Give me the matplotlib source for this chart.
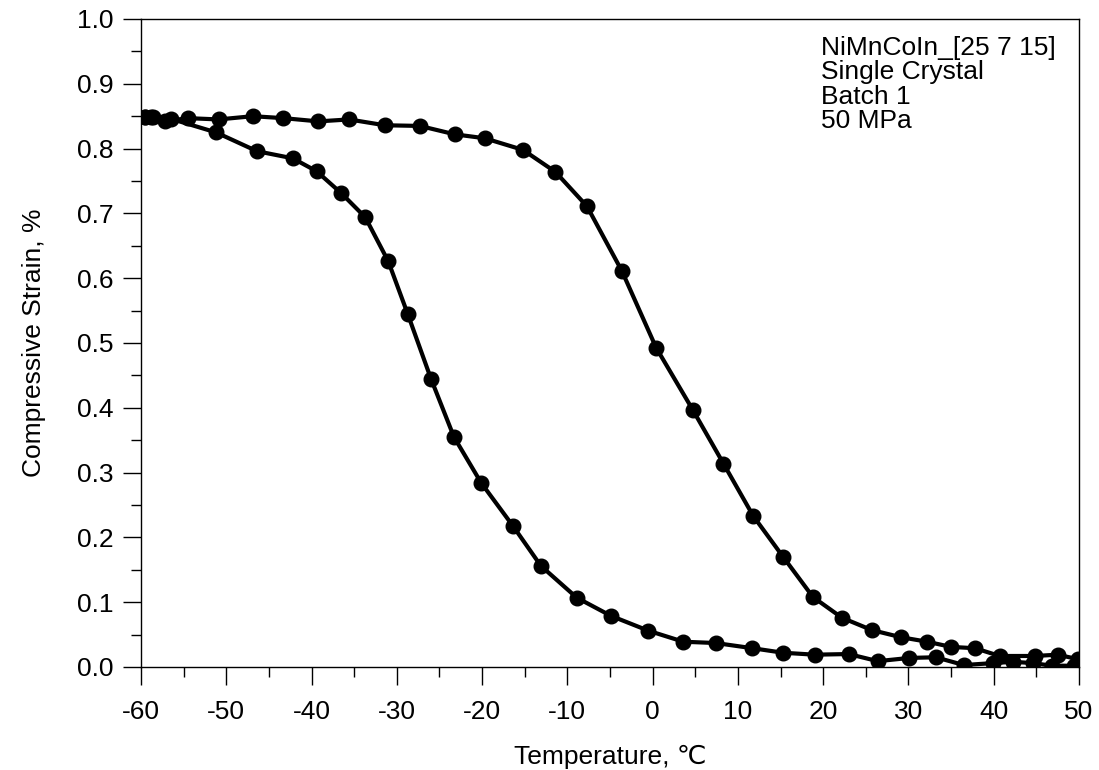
import matplotlib
matplotlib.use("Agg")
import matplotlib.pyplot as plt
from matplotlib.ticker import MultipleLocator, FormatStrFormatter

plt.rcParams['font.family'] = ['Liberation Sans', 'DejaVu Sans']
plt.rcParams['axes.unicode_minus'] = False

# Heating curve (upper-right branch)
heat_T = [-59.5, -58.6, -57.2, -54.5, -50.9, -46.9, -43.3, -39.2, -35.6, -31.4,
          -27.3, -23.2, -19.7, -15.2, -11.4, -7.7, -3.6, 0.4, 4.7, 8.3,
          11.8, 15.3, 18.8, 22.2, 25.7, 29.1, 32.2, 35.0, 37.8, 40.7,
          44.8, 47.5, 49.9]
heat_S = [0.849, 0.849, 0.842, 0.847, 0.845, 0.850, 0.847, 0.842, 0.845, 0.836,
          0.835, 0.822, 0.816, 0.798, 0.764, 0.711, 0.611, 0.493, 0.397, 0.314,
          0.233, 0.170, 0.108, 0.076, 0.057, 0.046, 0.039, 0.031, 0.029, 0.017,
          0.017, 0.019, 0.012]

# Cooling curve (lower-left branch)
cool_T = [-59.5, -58.8, -56.5, -51.2, -46.4, -42.2, -39.4, -36.5, -33.7, -31.0,
          -28.7, -26.0, -23.3, -20.1, -16.4, -13.1, -8.9, -4.9, -0.5, 3.6,
          7.4, 11.7, 15.3, 19.0, 23.0, 26.4, 30.1, 33.2, 36.5, 39.9,
          42.3, 44.6, 46.8, 49.4]
cool_S = [0.849, 0.848, 0.846, 0.825, 0.796, 0.785, 0.765, 0.731, 0.694, 0.626,
          0.544, 0.445, 0.355, 0.284, 0.218, 0.156, 0.107, 0.079, 0.056, 0.039,
          0.037, 0.029, 0.022, 0.019, 0.020, 0.009, 0.014, 0.015, 0.003, 0.006,
          0.008, 0.006, 0.002, 0.002]

info_lines = ["NiMnCoIn_[25 7 15]", "Single Crystal", "Batch 1", "50 MPa"]

W, H = 1099, 770
FS = 19
fig = plt.figure(figsize=(W / 100, H / 100), dpi=100)
ax = fig.add_axes([141 / W, (770 - 667) / H, (1079 - 141) / W, (667 - 19) / H])

for T, S in [(heat_T, heat_S), (cool_T, cool_S)]:
    ax.plot(T, S, color='black', lw=3.0, marker='o', markersize=10.5,
            markerfacecolor='black', markeredgecolor='black', solid_joinstyle='round')

ax.set_xlim(-60, 50)
ax.set_ylim(0, 1.0)
ax.xaxis.set_major_locator(MultipleLocator(10))
ax.xaxis.set_minor_locator(MultipleLocator(5))
ax.yaxis.set_major_locator(MultipleLocator(0.1))
ax.yaxis.set_minor_locator(MultipleLocator(0.05))
ax.yaxis.set_major_formatter(FormatStrFormatter('%.1f'))

ax.tick_params(which='both', direction='out', top=False, right=False, width=1.0, color='black')
ax.tick_params(which='major', length=13, labelsize=FS)
ax.tick_params(axis='x', which='major', pad=11)
ax.tick_params(axis='y', which='major', pad=7)
ax.tick_params(which='minor', length=7)
for sp in ax.spines.values():
    sp.set_linewidth(1.0)

ax.set_xlabel("Temperature, ℃", fontsize=FS, labelpad=15)
ax.set_ylabel("Compressive Strain, %", fontsize=FS, labelpad=22)

for i, line in enumerate(info_lines):
    ax.text(821 / W, 1 - (55 + 24.5 * i) / H, line, fontsize=FS, ha='left',
            va='baseline', transform=fig.transFigure)

fig.savefig("out.png", dpi=100)
